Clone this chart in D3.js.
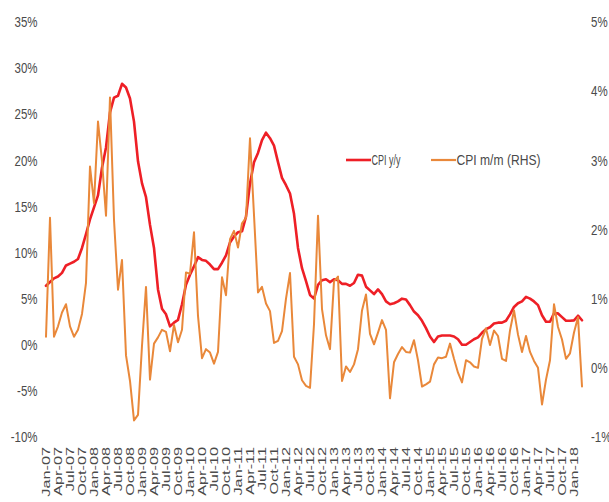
<!DOCTYPE html>
<html>
<head>
<meta charset="utf-8">
<script src="https://cdn.jsdelivr.net/npm/d3@7"></script>
<style>
  html, body { margin: 0; padding: 0; background: #fff; }
  svg { display: block; }
</style>
</head>
<body>
<svg id="chart" width="609" height="502"></svg>
<script>
// CPI y/y, % (left axis), monthly Jan-07 .. Mar-18
const cpiYoY = [
  6.4, 6.8, 7.2, 7.4, 7.8, 8.6, 8.8, 9.0, 9.3, 10.5, 12.0, 13.6,
  14.9, 16.2, 19.2, 21.4, 25.2, 26.8, 27.0, 28.3, 27.9, 26.7, 24.2, 19.9,
  17.5, 16.0, 13.0, 10.5, 6.0, 3.9, 3.3, 2.0, 2.4, 2.7, 4.4, 6.5,
  7.6, 8.5, 9.5, 9.2, 9.1, 8.7, 8.2, 8.2, 8.9, 9.7, 11.1, 11.75,
  12.2, 12.3, 13.9, 17.5, 19.8, 20.8, 22.2, 23.0, 22.4, 21.6, 19.8, 18.1,
  17.3, 16.4, 14.2, 10.5, 8.3, 6.9, 5.4, 5.0, 6.5, 7.0, 7.1, 6.8,
  7.1, 7.0, 6.6, 6.6, 6.4, 6.7, 7.6, 7.5, 6.3, 5.9, 5.5, 6.0,
  5.5, 4.7, 4.4, 4.5, 4.7, 5.0, 4.9, 4.3, 3.6, 3.2, 2.6, 1.8,
  0.9, 0.3, 0.9, 1.0, 1.0, 1.0, 0.9, 0.6, 0.0, 0.0, 0.3, 0.6,
  0.8, 1.3, 1.7, 1.9, 2.3, 2.4, 2.4, 2.6, 3.3, 4.1, 4.5, 4.7,
  5.2, 5.0, 4.7, 4.3, 3.2, 2.5, 2.5, 3.4, 3.4, 3.0, 2.6, 2.6,
  2.65, 3.15, 2.66
];

// CPI m/m, % (right axis)
const cpiMoM = [
  0.45, 2.17, 0.45, 0.6, 0.8, 0.92, 0.6, 0.45, 0.55, 0.78, 1.23, 2.91,
  2.38, 3.56, 2.99, 2.2, 3.91, 2.14, 1.13, 1.56, 0.18, -0.19, -0.76, -0.68,
  0.32, 1.17, -0.17, 0.35, 0.44, 0.55, 0.52, 0.24, 0.62, 0.37, 0.55, 1.38,
  1.36, 1.96, 0.75, 0.14, 0.27, 0.22, 0.06, 0.23, 1.31, 1.05, 1.86, 1.98,
  1.74, 2.09, 2.17, 3.32, 2.21, 1.09, 1.17, 0.93, 0.82, 0.36, 0.39, 0.53,
  1.0, 1.37, 0.16, 0.05, -0.18, -0.26, -0.29, 0.63, 2.2, 0.85, 0.47, 0.27,
  1.25, 1.32, -0.19, 0.02, -0.06, 0.05, 0.27, 0.83, 1.06, 0.49, 0.34, 0.51,
  0.69, 0.55, -0.44, 0.08, 0.2, 0.3, 0.23, 0.22, 0.4, 0.11, -0.27, -0.24,
  -0.2, 0.05, 0.15, 0.14, 0.16, 0.35, 0.13, -0.07, -0.21, 0.11, 0.08, 0.02,
  0.0, 0.42, 0.57, 0.33, 0.54, 0.46, 0.13, 0.1, 0.54, 0.83, 0.48, 0.23,
  0.46, 0.23, 0.1, 0.0, -0.53, -0.17, 0.11, 0.92, 0.59, 0.41, 0.13, 0.21,
  0.51, 0.73, -0.27
];

// quarterly category labels (every 3rd month)
const xTickLabels = [
  'Jan-07', 'Apr-07', 'Jul-07', 'Oct-07', 'Jan-08', 'Apr-08', 'Jul-08', 'Oct-08',
  'Jan-09', 'Apr-09', 'Jul-09', 'Oct-09', 'Jan-10', 'Apr-10', 'Jul-10', 'Oct-10',
  'Jan-11', 'Apr-11', 'Jul-11', 'Oct-11', 'Jan-12', 'Apr-12', 'Jul-12', 'Oct-12',
  'Jan-13', 'Apr-13', 'Jul-13', 'Oct-13', 'Jan-14', 'Apr-14', 'Jul-14', 'Oct-14',
  'Jan-15', 'Apr-15', 'Jul-15', 'Oct-15', 'Jan-16', 'Apr-16', 'Jul-16', 'Oct-16',
  'Jan-17', 'Apr-17', 'Jul-17', 'Oct-17', 'Jan-18'
];

const leftTicks = [-10, -5, 0, 5, 10, 15, 20, 25, 30, 35];
const rightTicks = [-1, 0, 1, 2, 3, 4, 5];

const seriesNames = ['CPI y/y', 'CPI m/m (RHS)'];

const RED = '#ee1f26';
const ORANGE = '#e9883a';
const TEXT_COLOR = '#4a4a4a';
const FONT = '"Liberation Sans", Arial, sans-serif';

const svg = d3.select('#chart');

const x = d3.scaleLinear()
  .domain([0, cpiYoY.length - 1])
  .range([46, 582]);

const yLeft = d3.scaleLinear().domain([-10, 35]).range([437, 22]);
const yRight = d3.scaleLinear().domain([-1, 5]).range([437, 22]);

// left axis labels
svg.append('g')
  .selectAll('text')
  .data(leftTicks)
  .join('text')
  .attr('transform', (d) => `translate(37.5,${yLeft(d)}) scale(1,1.3)`)
  .attr('dy', '0.35em')
  .attr('text-anchor', 'end')
  .attr('fill', TEXT_COLOR)
  .attr('font-family', FONT)
  .attr('font-size', '11.5px')
  .text((d) => `${d}%`);

// right axis labels
svg.append('g')
  .selectAll('text')
  .data(rightTicks)
  .join('text')
  .attr('transform', (d) => `translate(591,${yRight(d)}) scale(1,1.3)`)
  .attr('dy', '0.35em')
  .attr('text-anchor', 'start')
  .attr('fill', TEXT_COLOR)
  .attr('font-family', FONT)
  .attr('font-size', '11.5px')
  .text((d) => `${d}%`);

// category labels, rotated
svg.append('g')
  .selectAll('text')
  .data(xTickLabels)
  .join('text')
  .attr('transform', (d, i) => `translate(${x(i * 3)},447) scale(1,1.55) rotate(-90)`)
  .attr('dy', '0.35em')
  .attr('text-anchor', 'end')
  .attr('fill', TEXT_COLOR)
  .attr('font-family', FONT)
  .attr('font-size', '10.5px')
  .text((d) => d);

const lineYoY = d3.line()
  .x((d, i) => x(i))
  .y((d) => yLeft(d));

const lineMoM = d3.line()
  .x((d, i) => x(i))
  .y((d) => yRight(d));

svg.append('path')
  .datum(cpiYoY)
  .attr('d', lineYoY)
  .attr('fill', 'none')
  .attr('stroke', RED)
  .attr('stroke-width', 2.6)
  .attr('stroke-linejoin', 'round')
  .attr('stroke-linecap', 'round');

svg.append('path')
  .datum(cpiMoM)
  .attr('d', lineMoM)
  .attr('fill', 'none')
  .attr('stroke', ORANGE)
  .attr('stroke-width', 2)
  .attr('stroke-linejoin', 'round')
  .attr('stroke-linecap', 'round');

// legend
const legend = svg.append('g').attr('font-family', FONT).attr('font-size', '11px');
const legendItems = [
  { name: seriesNames[0], color: RED, x0: 346, width: 2.6, textLen: 29 },
  { name: seriesNames[1], color: ORANGE, x0: 431, width: 2.2, textLen: 84 }
];
legendItems.forEach((item) => {
  legend.append('line')
    .attr('x1', item.x0)
    .attr('x2', item.x0 + 25)
    .attr('y1', 160)
    .attr('y2', 160)
    .attr('stroke', item.color)
    .attr('stroke-width', item.width);
  legend.append('text')
    .attr('transform', `translate(${item.x0 + 25.5},160) scale(1,1.3)`)
    .attr('dy', '0.35em')
    .attr('fill', TEXT_COLOR)
    .attr('textLength', item.textLen)
    .attr('lengthAdjust', 'spacingAndGlyphs')
    .text(item.name);
});
</script>
</body>
</html>
